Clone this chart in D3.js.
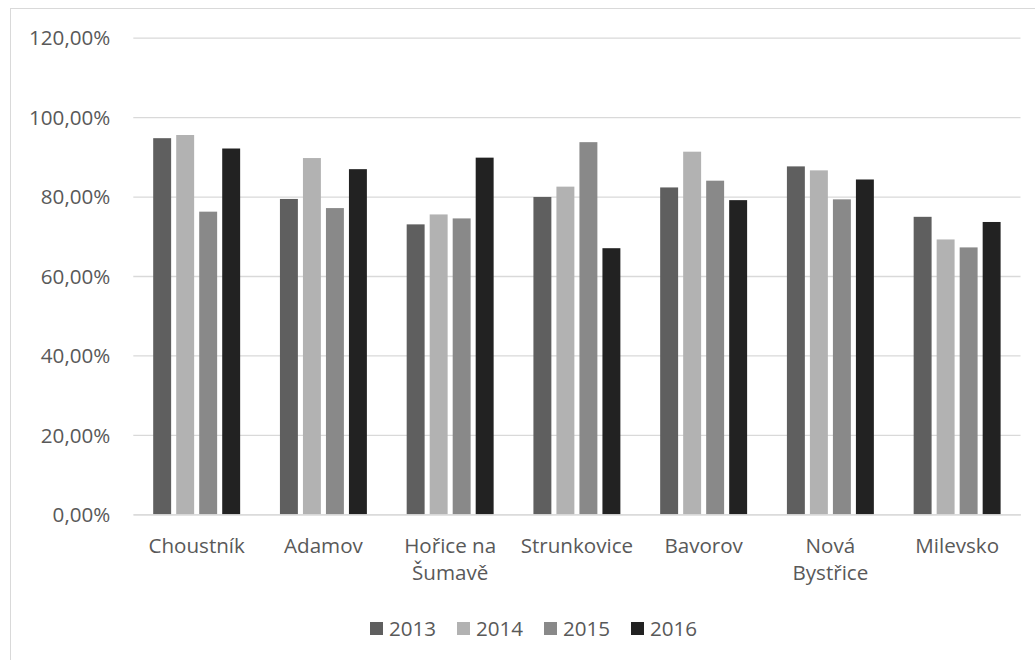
<!DOCTYPE html>
<html><head><meta charset="utf-8">
<script src="https://cdn.jsdelivr.net/npm/d3@7"></script>
<style>
html,body{margin:0;padding:0;background:#fff;}
svg text{font-family:"Open Sans",sans-serif;fill:#595959;}
</style></head>
<body>
<svg id="chart" width="1035" height="660"></svg>
<script>
const categories = ["Choustník","Adamov","Hořice na\nŠumavě","Strunkovice","Bavorov","Nová\nBystřice","Milevsko"];
const years = ["2013","2014","2015","2016"];
const values2013 = [94.7, 79.4, 73.0, 79.9, 82.3, 87.6, 74.9];
const values2014 = [95.5, 89.7, 75.5, 82.5, 91.3, 86.6, 69.2];
const values2015 = [76.2, 77.1, 74.5, 93.7, 84.0, 79.3, 67.2];
const values2016 = [92.1, 86.9, 89.8, 67.0, 79.1, 84.3, 73.6];
const yTicks = [0, 20, 40, 60, 80, 100, 120];
const colors = ["#5f5f5f", "#b2b2b2", "#898989", "#222222"];

const series = [values2013, values2014, values2015, values2016];
const svg = d3.select("#chart");
const fs = "20.6px";

// chart border
svg.append("rect").attr("x", 10.5).attr("y", 8.5).attr("width", 1100).attr("height", 700)
  .attr("fill", "none").attr("stroke", "#d9d9d9").attr("stroke-width", 1);

const mLeft = 133.3, mRight = 1020.5, mTop = 37.7, mBottom = 514.3;
const y = d3.scaleLinear().domain([0, 120]).range([mBottom, mTop]);
const x0 = d3.scaleBand().domain(categories).range([mLeft, mRight]).paddingInner(0.274).paddingOuter(0.137);
const x1 = d3.scaleBand().domain(years).range([0, x0.bandwidth()]).paddingInner(0.22).paddingOuter(0.11);

// gridlines via axis
const yAxis = d3.axisLeft(y).tickValues(yTicks).tickSize(-(mRight - mLeft))
  .tickFormat(d => d3.format(".2f")(d).replace(".", ",") + "%");
const gy = svg.append("g").attr("transform", `translate(${mLeft},0)`).call(yAxis);
gy.select(".domain").remove();
gy.selectAll(".tick line").attr("stroke", "#d9d9d9").attr("stroke-width", 1.3);
gy.selectAll(".tick text").attr("x", -23).attr("dy", "0.35em").style("font-size", fs).attr("fill", "#595959");

// bars
const groups = svg.append("g").selectAll("g").data(categories).join("g")
  .attr("transform", d => `translate(${x0(d)},0)`);
groups.selectAll("rect").data((d, i) => years.map((yr, j) => ({yr, v: series[j][i], j})))
  .join("rect")
  .attr("x", d => x1(d.yr))
  .attr("width", x1.bandwidth())
  .attr("y", d => y(d.v))
  .attr("height", d => y(0) - y(d.v))
  .attr("fill", d => colors[d.j]);

// x axis
const xAxis = d3.axisBottom(x0).tickSize(0).tickPadding(0).tickFormat("");
const gx = svg.append("g").attr("transform", `translate(0,${mBottom})`).call(xAxis);
gx.select(".domain").attr("stroke", "#d9d9d9").attr("stroke-width", 1.3);
gx.selectAll(".tick").each(function(d) {
  const t = d3.select(this).append("text").attr("text-anchor", "middle").style("font-size", fs).attr("fill", "#595959");
  d.split("\n").forEach((ln, k) => {
    t.append("tspan").attr("x", 0).attr("y", 38.5 + k * 27).text(ln);
  });
});

// legend
const legendX = d3.scalePoint().domain(years).range([370, 631]);
const lg = svg.append("g").selectAll("g").data(years).join("g")
  .attr("transform", d => `translate(${legendX(d)},0)`);
lg.append("rect").attr("x", 0).attr("y", 622).attr("width", 13).attr("height", 13)
  .attr("fill", (d, i) => colors[i]);
lg.append("text").attr("x", 19).attr("y", 635.5).style("font-size", fs).text(d => d);
</script>
</body></html>
